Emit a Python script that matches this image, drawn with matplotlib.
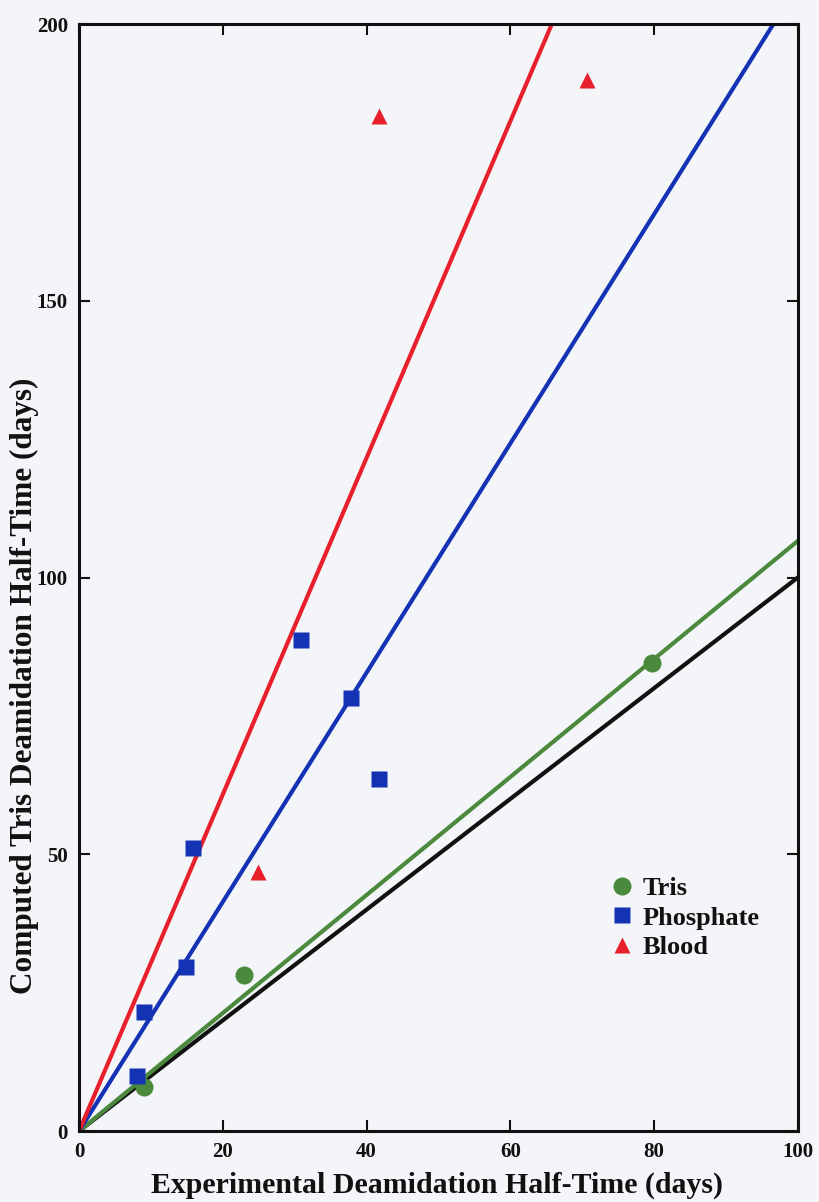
import matplotlib
matplotlib.use("Agg")
import matplotlib.pyplot as plt
import numpy as np

# Experimental vs. computed deamidation half-times (days)
tris_x = [9.0, 23.0, 79.7]
tris_y = [7.9, 28.2, 84.6]

phos_x = [8.1, 9.0, 14.9, 15.9, 30.9, 37.8, 41.7]
phos_y = [9.9, 21.5, 29.6, 51.1, 88.7, 78.2, 63.6]

blood_x = [24.9, 41.7, 70.7]
blood_y = [46.8, 183.4, 189.9]

# Slopes of the lines through the origin
slope_tris = 1.066
slope_phos = 2.07
slope_blood = 3.04
slope_identity = 1.0

x_ticks = [0, 20, 40, 60, 80, 100]
y_ticks = [0, 50, 100, 150, 200]

red = "#e8202c"
blue = "#1432b4"
green = "#4b8a3c"
paper = "#f4f5f8"

plt.rcParams["font.family"] = ["Liberation Serif", "DejaVu Serif"]
plt.rcParams["font.weight"] = "bold"

fig = plt.figure(figsize=(8.19, 12.02), dpi=100, facecolor=paper)
ax = fig.add_axes([0.0965, 0.059, 0.8775, 0.921], facecolor=paper)

xs = np.array([0.0, 100.0])
ax.plot(xs, slope_identity * xs, color="#111111", lw=3.0, zorder=2)
ax.plot(xs, slope_tris * xs, color=green, lw=3.0, zorder=2)
ax.plot(xs, slope_phos * xs, color=blue, lw=3.0, zorder=2)
ax.plot(xs, slope_blood * xs, color=red, lw=3.0, zorder=2)

ax.plot(tris_x, tris_y, "o", color=green, ms=13, mec="none", zorder=3, label="Tris")
ax.plot(phos_x, phos_y, "s", color=blue, ms=11, mec="none", zorder=3, label="Phosphate")
ax.plot(blood_x, blood_y, "^", color=red, ms=11, mec="none", zorder=3, label="Blood")

ax.set_xlim(0, 100)
ax.set_ylim(0, 200)
ax.set_xticks(x_ticks)
ax.set_yticks(y_ticks)
ax.tick_params(direction="in", length=8, width=1.5, top=True, right=True,
               labelsize=15, pad=8, colors="#111111")
for lbl in ax.get_xticklabels() + ax.get_yticklabels():
    lbl.set_fontweight("bold")
for sp in ax.spines.values():
    sp.set_linewidth(2.2)
    sp.set_color("#111111")

# Axis titles
fig.text(437 / 819, 1 - 1185 / 1202, "Experimental Deamidation Half-Time (days)",
         fontsize=21.5, fontweight="bold", ha="center", va="center", color="#111111")
fig.text(24 / 819, 1 - 686 / 1202, "Computed Tris Deamidation Half-Time (days)",
         fontsize=22.5, fontweight="bold", ha="center", va="center", rotation=90,
         color="#111111")

leg = ax.legend(loc="upper left", bbox_to_anchor=(0.726, 0.2395), frameon=False,
                fontsize=19, handletextpad=0.4, labelspacing=0.23,
                handlelength=0.8, borderaxespad=0)
for t in leg.get_texts():
    t.set_fontweight("bold")
    t.set_color("#111111")

fig.savefig("out.png", dpi=100, facecolor=paper)
